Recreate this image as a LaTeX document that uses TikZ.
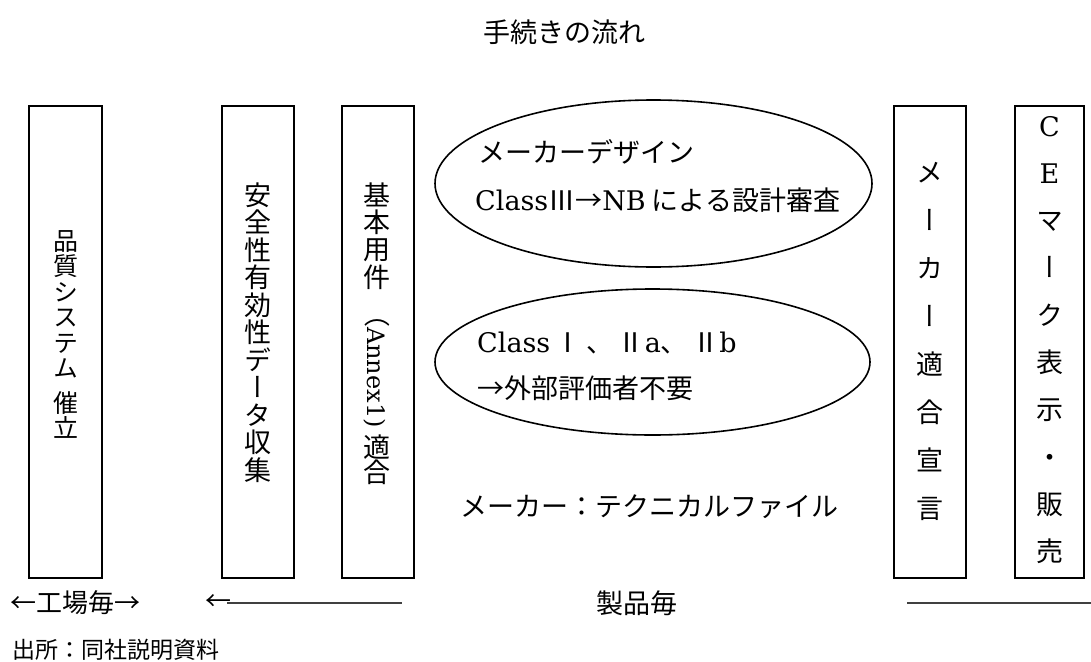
\documentclass[tikz,border=0pt]{standalone}
\usepackage{fontspec}
\usetikzlibrary{shapes.geometric}
\setmainfont{Liberation Serif}
\newfontfamily\jp{Noto Sans CJK JP}
\newfontfamily\jpv[RawFeature=+vert]{Noto Sans CJK JP}
\newfontfamily\lat{DejaVu Serif}
\begin{document}
\begin{tikzpicture}[x=1pt,y=-1pt,
  colbox/.style={draw, line width=1.6pt, inner sep=0pt, minimum height=472pt},
  oval/.style={draw, ellipse, line width=1.6pt, inner sep=0pt},
  vtext/.style={inner sep=0pt, align=center},
  htext/.style={inner sep=0pt, anchor=west, font={\jp\fontsize{27}{30}\selectfont}},
  rule/.style={draw=black!75, line width=2.4pt}
]
\useasboundingbox (0,0) rectangle (1091,661);

% title
\node[inner sep=0pt, font={\jp\fontsize{27}{30}\selectfont}] (title) at (564,32) {手続きの流れ};

% columns
\node[colbox, minimum width=73pt] (b1) at (65.5,342) {};
\node[colbox, minimum width=72pt] (b2) at (258,342) {};
\node[colbox, minimum width=72pt] (b3) at (378,342) {};
\node[colbox, minimum width=72pt] (b4) at (930,342) {};
\node[colbox, minimum width=69pt] (b5) at (1049.5,342) {};

% column texts
\node[vtext, font={\jpv\fontsize{25}{25.5}\selectfont}] (t1) at (65.5,334.5)
  {品\\質\\シ\\ス\\テ\\ム\\[9pt]催\\立};
\node[vtext, font={\jpv\fontsize{27}{27.5}\selectfont}] (t2) at (258,332.5)
  {安\\全\\性\\有\\効\\性\\デ\\ー\\タ\\収\\集};
\node[vtext, font={\jpv\fontsize{27}{27.3}\selectfont}] (t3a) at (377,236)
  {基\\本\\用\\件};
\node[inner sep=0pt, rotate=-90, anchor=west] (t3b) at (377,301)
  {{\jp\fontsize{26}{27}\selectfont （}{\lat\fontsize{24}{27}\selectfont Annex1)}};
\node[vtext, font={\jpv\fontsize{27}{25}\selectfont}] (t3c) at (377,460)
  {適\\合};
\node[vtext, font={\jpv\fontsize{27}{48}\selectfont}] (t4) at (930,341.5)
  {メ\\ー\\カ\\ー\\適\\合\\宣\\言};
\node[vtext, font={\jpv\fontsize{27}{47.3}\selectfont}] (t5) at (1049.5,340)
  {{\lat C}\\{\lat E}\\マ\\ー\\ク\\表\\示\\・\\販\\売};

% ellipses
\node[oval, minimum width=437pt, minimum height=167pt] (e1) at (653.5,183.5) {};
\node[oval, minimum width=435pt, minimum height=146pt] (e2) at (652.5,362) {};

\node[htext] (e1a) at (478,152) {メーカーデザイン};
\node[htext] (e1b) at (475,200) {{\lat Class}Ⅲ→{\lat NB} による設計審査};
\node[htext] (e2a) at (477,343) {{\lat Class}\,Ⅰ\,、\,Ⅱ{\lat a}、\,Ⅱ{\lat b}};
\node[htext] (e2b) at (477,388) {→外部評価者不要};
\node[htext] (tf) at (460,507) {メーカー：テクニカルファイル};

% bottom
\node[inner sep=0pt, anchor=west, font={\jp\fontsize{26}{28}\selectfont}] (fac) at (10,603) {←工場毎→};
\node[inner sep=0pt, anchor=west, font={\jp\fontsize{26}{28}\selectfont}] (larr) at (205,603) {←};
\coordinate (lend) at (402,603);
\draw[rule] (larr.east) ++(-4pt,0) -- (lend);
\node[inner sep=0pt, font={\jp\fontsize{27}{28}\selectfont}] (prod) at (637,603) {製品毎};
\coordinate (rs) at (907,603);
\coordinate (re) at (1091,603);
\draw[rule] (rs) -- (re);
\node[inner sep=0pt, anchor=west, font={\jp\fontsize{23}{25}\selectfont}] (src) at (12,650) {出所：同社説明資料};
\end{tikzpicture}
\end{document}
